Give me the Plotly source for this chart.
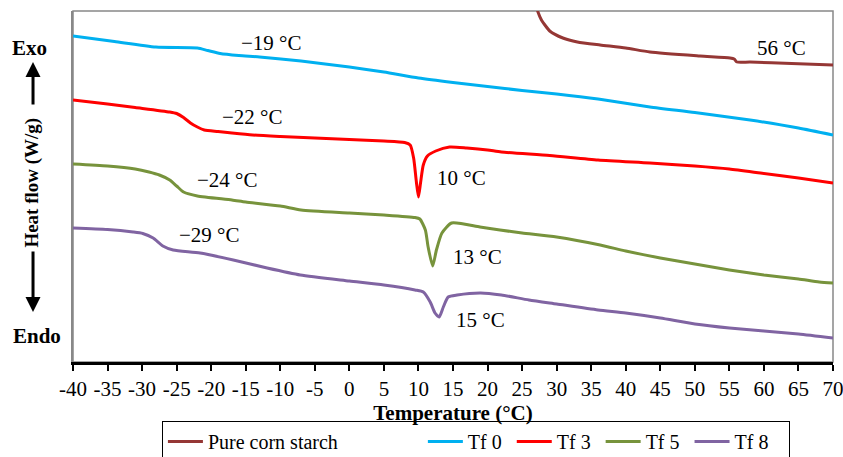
import plotly.graph_objects as go

# ---- DSC thermograms: temperature (°C) and heat flow (W/g, arbitrary offset) ----
pure_T = [26.8, 27.3, 27.8, 28.3, 29.0, 30.9, 33.0, 36.3, 40.0, 43.5, 50.75, 55.1, 55.7, 56.1, 58.0, 64.0, 70.0]
pure_hf = [-0.00, -0.12, -0.20, -0.25, -0.31, -0.38, -0.42, -0.45, -0.48, -0.52, -0.56, -0.58, -0.59, -0.62, -0.62, -0.635, -0.65]

tf0_T = [-40, -34, -28, -22, -20.5, -18.7, -16, -13, -7, 0, 5, 10, 15, 20, 25, 30, 36, 43.5, 50, 58, 65, 70]
tf0_hf = [-0.36, -0.415, -0.47, -0.48, -0.505, -0.535, -0.555, -0.57, -0.61, -0.67, -0.72, -0.78, -0.825,
          -0.865, -0.905, -0.94, -0.99, -1.07, -1.125, -1.20, -1.28, -1.35]

tf3_T = [-40, -35, -31, -26, -25, -24, -23, -22, -21, -19, -17, -14, -10, -5, 0, 5, 8, 8.8, 9.3, 9.7, 10,
         10.3, 10.7, 11.3, 12.5, 14.5, 17, 20, 22, 29, 36, 43.5, 50, 55, 59.5, 65, 70]
tf3_hf = [-1.00, -1.04, -1.075, -1.12, -1.135, -1.175, -1.23, -1.27, -1.30, -1.315, -1.33, -1.35, -1.365,
          -1.38, -1.395, -1.41, -1.425, -1.45, -1.58, -1.82, -1.97, -1.83, -1.65, -1.56, -1.51, -1.47,
          -1.48, -1.50, -1.52, -1.555, -1.60, -1.63, -1.66, -1.69, -1.73, -1.78, -1.83]

tf5_T = [-40, -35, -31, -29, -27.5, -26, -25, -24, -22, -17, -15, -10, -7, 0, 5, 9.5, 10.2, 11, 11.4, 12.06,
         12.6, 13.4, 14.8, 18.9, 21.8, 25, 30, 36.3, 40, 45, 50, 55, 60, 65, 68, 70]
tf5_hf = [-1.64, -1.66, -1.69, -1.72, -1.75, -1.80, -1.86, -1.92, -1.96, -2.00, -2.02, -2.06, -2.10,
          -2.13, -2.15, -2.175, -2.19, -2.30, -2.47, -2.66, -2.50, -2.33, -2.23, -2.27, -2.30, -2.33,
          -2.37, -2.45, -2.51, -2.58, -2.64, -2.70, -2.75, -2.79, -2.82, -2.83]

tf8_T = [-40, -35, -31.3, -29.9, -28.4, -27, -25.5, -21.6, -16.8, -11.9, -7.1, 0, 5, 9.5, 10.7, 11.7, 12.4,
         13.0, 13.6, 14.3, 15.6, 19, 22, 26, 30, 36, 40, 45, 50, 55, 60, 65, 70]
tf8_hf = [-2.28, -2.295, -2.32, -2.335, -2.38, -2.46, -2.50, -2.53, -2.60, -2.68, -2.75, -2.81, -2.85,
          -2.90, -2.92, -3.02, -3.13, -3.17, -3.07, -2.97, -2.95, -2.93, -2.95, -3.00, -3.04, -3.10,
          -3.13, -3.18, -3.24, -3.28, -3.31, -3.34, -3.38]

NBSP = "\u00a0"
series = [
    ("Pure corn starch" + NBSP * 16, pure_T, pure_hf, "#953735"),
    ("Tf 0" + NBSP, tf0_T, tf0_hf, "#00B0F0"),
    ("Tf 3" + NBSP, tf3_T, tf3_hf, "#FF0000"),
    ("Tf 5" + NBSP, tf5_T, tf5_hf, "#77933C"),
    ("Tf 8" + NBSP * 3, tf8_T, tf8_hf, "#8064A2"),
]

# transition temperature labels: text, temperature, heat flow
peak_labels = ["\u221219 \u00b0C", "\u221222 \u00b0C", "\u221224 \u00b0C", "\u221229 \u00b0C",
               "10 \u00b0C", "13 \u00b0C", "15 \u00b0C", "56 \u00b0C"]
peak_T = [-11.2, -13.95, -17.6, -20.2, 16.3, 18.5, 19.0, 62.6]
peak_hf = [-0.43, -1.17, -1.80, -2.35, -1.78, -2.57, -3.20, -0.48]

tick_vals = list(range(-40, 75, 5))
tick_text = [str(v) for v in tick_vals]

FONT = "Liberation Serif"

fig = go.Figure()
for name, T, hf, color in series:
    fig.add_trace(go.Scatter(x=T, y=hf, mode="lines", name=name,
                             line=dict(color=color, width=3, shape="spline", smoothing=0.6)))

for txt, t, h in zip(peak_labels, peak_T, peak_hf):
    fig.add_annotation(x=t, y=h, text=txt, showarrow=False,
                       font=dict(family=FONT, size=21, color="black"))


def side_note(x, y, text, size=21, angle=0):
    fig.add_annotation(xref="paper", yref="paper", x=x, y=y, text=text, textangle=angle,
                       xanchor="center", yanchor="middle", showarrow=False,
                       font=dict(family=FONT, size=size, color="black"))


# Exo / Endo direction markers on the heat-flow axis
side_note(-0.0566, 0.8946, "<b>Exo</b>")
side_note(-0.0474, 0.074, "<b>Endo</b>")
side_note(-0.054, 0.511, "<b>Heat flow (W/g)</b>", size=19, angle=-90)
fig.add_annotation(xref="paper", yref="paper", x=-0.0526, y=0.8547, text="", showarrow=True,
                   ax=0, ay=44, arrowhead=2, arrowsize=1, arrowwidth=3, arrowcolor="black")
fig.add_annotation(xref="paper", yref="paper", x=-0.0526, y=0.1425, text="", showarrow=True,
                   ax=0, ay=-62, arrowhead=2, arrowsize=1, arrowwidth=3, arrowcolor="black")

# grey frame around the plot area
fig.add_shape(type="rect", xref="paper", yref="paper", x0=0, y0=0, x1=1, y1=1,
              line=dict(color="#888888", width=1.5), layer="below")

fig.update_layout(
    width=843, height=457,
    margin=dict(l=73, r=10, t=11, b=95, autoexpand=False),
    paper_bgcolor="white", plot_bgcolor="white",
    font=dict(family=FONT, size=21, color="black"),
    showlegend=True,
    legend=dict(orientation="h", x=0.117, y=-0.168, xanchor="left", yanchor="top",
                bordercolor="black", borderwidth=1, itemwidth=35,
                font=dict(family=FONT, size=20, color="black")),
    xaxis=dict(range=[-40, 70], tickvals=tick_vals, ticktext=tick_text,
               ticks="outside", ticklen=6, tickwidth=1.5, tickcolor="black",
               ticklabeloverflow="allow",
               showline=True, linecolor="black", linewidth=2.5,
               showgrid=False, zeroline=False,
               tickfont=dict(family=FONT, size=21, color="black"),
               title=dict(text="<b>Temperature (\u00b0C)</b>", standoff=3,
                          font=dict(family=FONT, size=21, color="black"))),
    yaxis=dict(range=[-3.62, -0.11], showticklabels=False, ticks="",
               showline=True, linecolor="#888888", linewidth=1.5,
               showgrid=False, zeroline=False),
)

fig.write_html("out.html")
